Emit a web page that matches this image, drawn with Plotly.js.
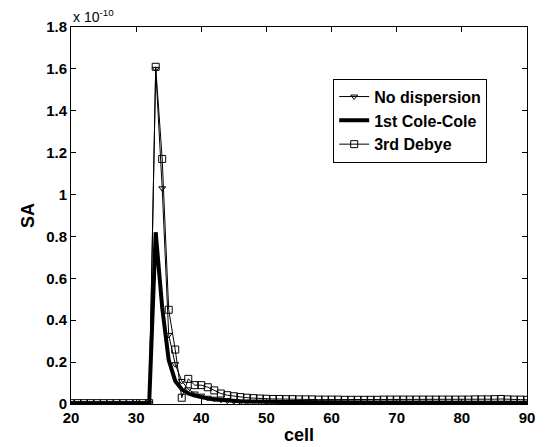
<!DOCTYPE html>
<html>
<head>
<meta charset="utf-8">
<script src="https://cdn.plot.ly/plotly-3.0.1.min.js"></script>
<style>html,body{margin:0;padding:0;background:#fff;}#chart{width:545px;height:447px;}</style>
</head>
<body>
<div id="chart"></div>
<script>
// cell index 20..90
const cells = [20,21,22,23,24,25,26,27,28,29,30,31,32,33,34,35,36,37,38,39,40,41,42,43,44,45,46,47,48,49,50,51,52,53,54,55,56,57,58,59,60,61,62,63,64,65,66,67,68,69,70,71,72,73,74,75,76,77,78,79,80,81,82,83,84,85,86,87,88,89,90];
// values in units of 1e-10
const noDispersion = [0.004,0.004,0.004,0.004,0.004,0.004,0.004,0.004,0.004,0.004,0.004,0.004,0.004,1.60,1.03,0.33,0.19,0.11,0.07,0.05,0.04,0.03,0.025,0.02,0.016,0.013,0.011,0.010,0.009,0.008,0.007,0.007,0.006,0.006,0.006,0.006,0.006,0.005,0.005,0.005,0.005,0.005,0.005,0.005,0.005,0.005,0.005,0.005,0.005,0.005,0.005,0.005,0.005,0.005,0.005,0.005,0.005,0.005,0.005,0.005,0.005,0.005,0.005,0.005,0.005,0.005,0.005,0.005,0.005,0.005,0.005];
const coleCole = [0.002,0.002,0.002,0.002,0.002,0.002,0.002,0.002,0.002,0.002,0.002,0.002,0.002,0.82,0.46,0.21,0.11,0.07,0.05,0.04,0.032,0.026,0.022,0.019,0.016,0.014,0.013,0.012,0.011,0.011,0.010,0.010,0.009,0.009,0.009,0.009,0.008,0.008,0.008,0.008,0.008,0.008,0.007,0.007,0.007,0.007,0.007,0.007,0.007,0.007,0.007,0.007,0.007,0.007,0.006,0.006,0.006,0.006,0.006,0.006,0.006,0.006,0.006,0.006,0.006,0.006,0.006,0.006,0.006,0.006,0.006];
const debye = [0.004,0.004,0.004,0.004,0.004,0.004,0.004,0.004,0.004,0.004,0.004,0.004,0.004,1.61,1.17,0.45,0.26,0.03,0.12,0.09,0.09,0.08,0.065,0.05,0.042,0.037,0.033,0.030,0.028,0.026,0.025,0.024,0.024,0.023,0.023,0.022,0.022,0.022,0.021,0.021,0.021,0.021,0.020,0.020,0.020,0.020,0.020,0.020,0.021,0.021,0.021,0.021,0.021,0.021,0.021,0.021,0.021,0.021,0.021,0.021,0.021,0.021,0.022,0.022,0.022,0.023,0.024,0.022,0.021,0.021,0.020];
const seriesNames = ["No dispersion", "1st Cole-Cole", "3rd Debye"];
const yTicks = [0,0.2,0.4,0.6,0.8,1,1.2,1.4,1.6,1.8];
const yTickText = ["0","0.2","0.4","0.6","0.8","1","1.2","1.4","1.6","1.8"];
const xTicks = [20,30,40,50,60,70,80,90];

const FONT = "Liberation Sans, Arial, Helvetica, sans-serif";

const traces = [
  {x: cells, y: noDispersion, name: seriesNames[0], type: 'scatter', mode: 'lines+markers',
   line: {color: '#000', width: 1}, marker: {symbol: 'triangle-down-open', size: 6, color: '#000', line: {width: 1, color: '#000'}}},
  {x: cells, y: coleCole, name: seriesNames[1], type: 'scatter', mode: 'lines',
   line: {color: '#000', width: 4}},
  {x: cells, y: debye, name: seriesNames[2], type: 'scatter', mode: 'lines+markers',
   line: {color: '#000', width: 1}, marker: {symbol: 'square-open', size: 7, color: '#000', line: {width: 1, color: '#000'}}}
];

const axisCommon = {
  showline: true, linecolor: '#000', linewidth: 1, mirror: 'ticks',
  ticks: 'inside', ticklen: 5, tickcolor: '#000', showgrid: false, zeroline: false,
  tickfont: {family: FONT, size: 15, color: '#000', weight: 'bold'}
};

const layout = {
  width: 545, height: 447,
  margin: {l: 71, r: 18, t: 27, b: 43},
  paper_bgcolor: '#fff', plot_bgcolor: '#fff',
  showlegend: true,
  legend: {x: 0.575, y: 0.863, xanchor: 'left', yanchor: 'top',
    bgcolor: '#fff', bordercolor: '#000', borderwidth: 1,
    font: {family: FONT, size: 16, color: '#000', weight: 'bold'},
    tracegroupgap: 0, itemwidth: 30},
  xaxis: Object.assign({}, axisCommon, {range: [20, 90], tickvals: xTicks,
    title: {text: 'cell', font: {family: FONT, size: 18, color: '#000', weight: 'bold'}, standoff: 3}}),
  yaxis: Object.assign({}, axisCommon, {range: [0, 1.8], tickvals: yTicks, ticktext: yTickText,
    title: {text: 'SA', font: {family: FONT, size: 18, color: '#000', weight: 'bold'}, standoff: 6}}),
  annotations: [{
    xref: 'paper', yref: 'paper', x: 0, y: 1, xanchor: 'left', yanchor: 'bottom',
    text: 'x 10<sup>-10</sup>', showarrow: false,
    font: {family: FONT, size: 14, color: '#000'}
  }]
};

Plotly.newPlot('chart', traces, layout, {displayModeBar: false, staticPlot: true});
</script>
</body>
</html>
